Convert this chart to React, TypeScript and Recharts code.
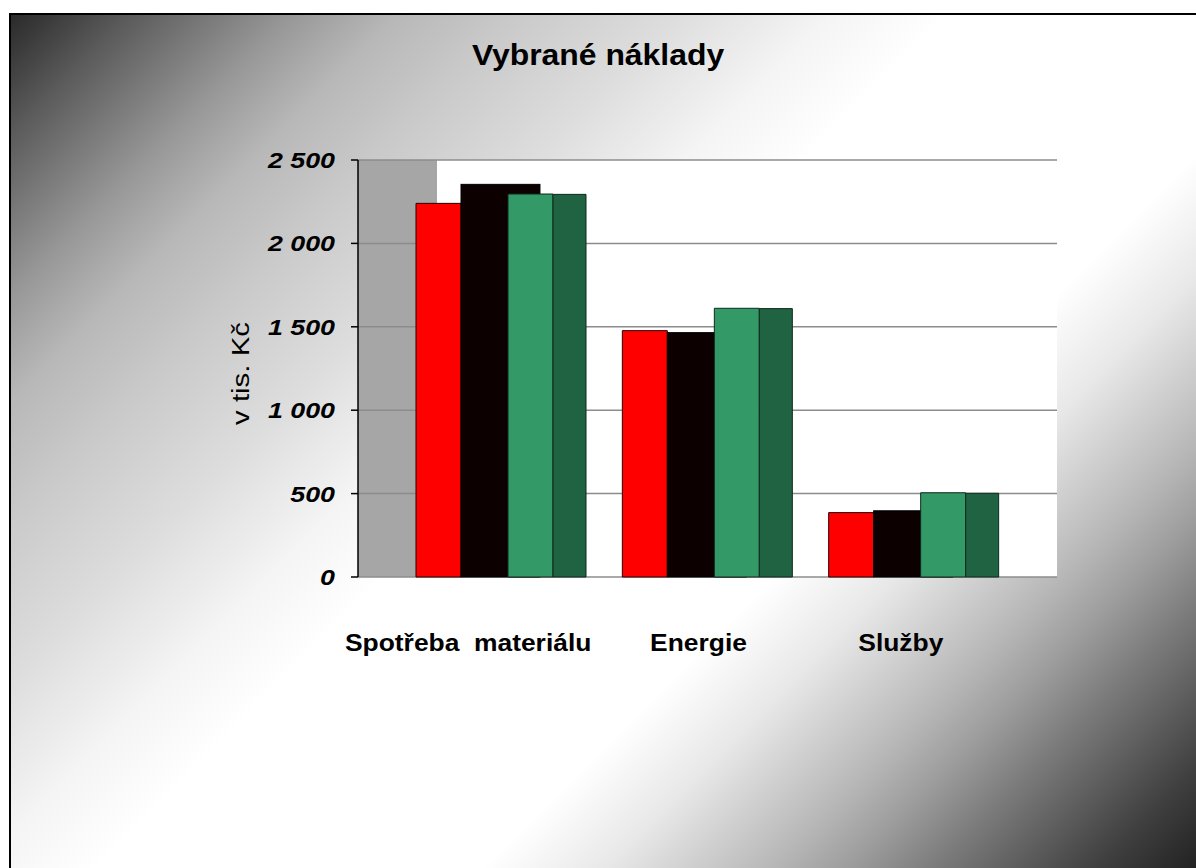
import React from 'react';
import { BarChart, Bar, XAxis, YAxis, CartesianGrid, Label } from 'recharts';

const categories = ['Spotřeba  materiálu', 'Energie', 'Služby'];
const seriesRed = [2240, 1477, 386];
const seriesBlack = [2354, 1465, 397];
const seriesGreen = [2296, 1611, 505];
const seriesDarkGreen = [2294, 1609, 502];
const yTicks = [0, 500, 1000, 1500, 2000, 2500];
const yTickLabels = ['0', '500', '1 000', '1 500', '2 000', '2 500'];

const data = categories.map((name, i) => ({
  name,
  red: seriesRed[i],
  black: seriesBlack[i],
  green: seriesGreen[i],
  darkGreen: seriesDarkGreen[i],
}));

const FONT = '"Liberation Sans", Arial, Helvetica, sans-serif';
const X_LABEL_NUDGE = [-33, -9, -13];

const YTick = (props: any) => {
  const { x, y, payload } = props;
  const idx = yTicks.indexOf(payload.value);
  const label = idx >= 0 ? yTickLabels[idx] : String(payload.value);
  return (
    <text
      x={0}
      y={0}
      transform={`translate(${x - 14}, ${y}) scale(1.22, 1)`}
      textAnchor="end"
      dy="0.36em"
      fontSize={22}
      fontWeight="bold"
      fontStyle="italic"
      fontFamily={FONT}
      fill="#000"
    >
      {label}
    </text>
  );
};

const XTick = (props: any) => {
  const { x, y, payload, index } = props;
  const nudge = X_LABEL_NUDGE[index] ?? 0;
  return (
    <text
      x={0}
      y={0}
      transform={`translate(${x + nudge}, ${y + 66}) scale(1.1, 1)`}
      textAnchor="middle"
      fontSize={24}
      fontWeight="bold"
      fontFamily={FONT}
      fill="#000"
      style={{ whiteSpace: 'pre' }}
    >
      {payload.value}
    </text>
  );
};

const YLabel = (props: any) => {
  const vb = props.viewBox || {};
  const cx = vb.x - 17;
  const cy = vb.y + vb.height / 2 + 5;
  return (
    <text
      x={0}
      y={0}
      transform={`translate(${cx}, ${cy}) rotate(-90) scale(1.28, 1)`}
      textAnchor="middle"
      dy="0.36em"
      fontSize={23}
      fontFamily={FONT}
      fill="#000"
    >
      v tis. Kč
    </text>
  );
};

// black bar drawn with a depth part that shows behind the following bar
const DepthBar = (props: any) => {
  const { x, y, width, height, fill, stroke } = props;
  if (!height || height <= 0) return null;
  const depth = width * 0.68;
  return (
    <g>
      <rect x={x} y={y} width={width + depth} height={height} fill={fill} stroke={stroke} strokeWidth={1} />
    </g>
  );
};

export default function App() {
  return (
    <div style={{ position: 'fixed', left: 0, top: 0, width: 1196, height: 868, background: '#fff', overflow: 'hidden' }}>
      <div
        style={{
          position: 'absolute',
          left: 9,
          top: 13,
          width: 1196 - 9,
          height: 868 - 13,
          borderTop: '2px solid #000',
          borderLeft: '2px solid #000',
          boxSizing: 'border-box',
          background:
            'linear-gradient(135deg, #2a2a2a 0%, #5c5c5c 6%, #999999 14%, #b8b8b8 19%, #cacaca 25%, #dedede 33%, #f4f4f4 40%, #ffffff 46%, #ffffff 65%, #e8e8e8 71%, #d0d0d0 75%, #b8b8b8 79%, #9c9c9c 83%, #7c7c7c 87%, #5e5e5e 91%, #404040 95%, #222222 100%)',
        }}
      />
      <div style={{ position: 'absolute', left: 0, top: 0 }}>
        <BarChart
          width={1196}
          height={868}
          data={data}
          margin={{ top: 160, right: 139, bottom: 231, left: 258 }}
          barGap={0}
          barCategoryGap={0}
        >
          <defs>
            <linearGradient id="wallGrad" x1="0" y1="0" x2="1" y2="0">
              <stop offset="0" stopColor="#a6a6a6" />
              <stop offset="0.113" stopColor="#a6a6a6" />
              <stop offset="0.113" stopColor="#ffffff" />
              <stop offset="1" stopColor="#ffffff" />
            </linearGradient>
          </defs>
          <text
            x={0}
            y={0}
            transform={`translate(598, 65) scale(1.1, 1)`}
            textAnchor="middle"
            fontSize={29}
            fontWeight="bold"
            fontFamily={FONT}
            fill="#000"
          >
            Vybrané náklady
          </text>
          <CartesianGrid
            vertical={false}
            stroke="#8c8c8c"
            strokeWidth={1.5}
            fill="url(#wallGrad)"
            fillOpacity={1}
          />
          <XAxis
            dataKey="name"
            axisLine={false}
            tickLine={false}
            height={60}
            padding={{ left: 40, right: 40 }}
            tick={<XTick />}
            interval={0}
          />
          <YAxis
            width={100}
            domain={[0, 2500]}
            ticks={yTicks}
            interval={0}
            axisLine={{ stroke: '#000', strokeWidth: 1.5 }}
            tickLine={{ stroke: '#000', strokeWidth: 1.5 }}
            tickSize={7}
            tick={<YTick />}
          >
            <Label content={<YLabel />} />
          </YAxis>
          <Bar dataKey="red" fill="#ff0000" stroke="#2a0000" strokeWidth={1} barSize={45} isAnimationActive={false} />
          <Bar dataKey="black" fill="#0c0000" stroke="#000" strokeWidth={1} barSize={47} shape={<DepthBar />} isAnimationActive={false} />
          <Bar dataKey="green" fill="#339966" stroke="#0f2a1c" strokeWidth={1} barSize={45} isAnimationActive={false} />
          <Bar dataKey="darkGreen" fill="#1f6342" stroke="#0f2a1c" strokeWidth={1} barSize={33} isAnimationActive={false} />
        </BarChart>
      </div>
    </div>
  );
}
